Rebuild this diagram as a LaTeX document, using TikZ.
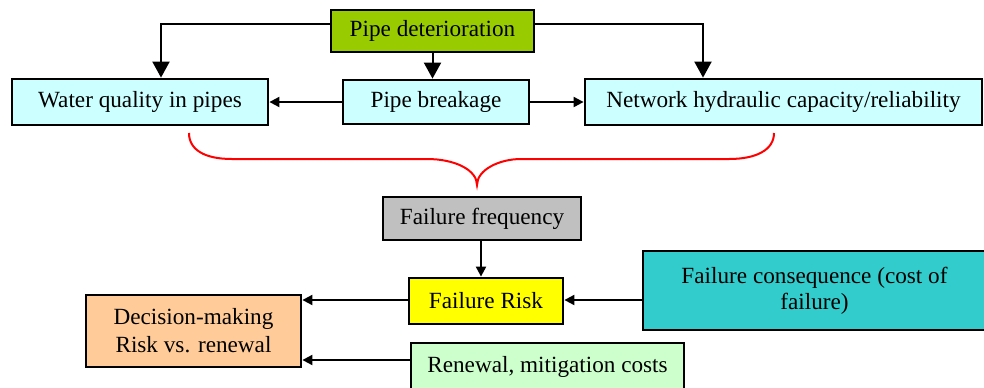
\documentclass[tikz,border=0pt]{standalone}
\usepackage{fontspec}
\setmainfont{Liberation Serif}
\usetikzlibrary{arrows.meta}
\definecolor{detgreen}{HTML}{99CC00}
\definecolor{paleblue}{HTML}{CCFFFF}
\definecolor{freqgray}{HTML}{C0C0C0}
\definecolor{riskyellow}{HTML}{FFFF00}
\definecolor{consteal}{HTML}{33CCCC}
\definecolor{decpeach}{HTML}{FFCC99}
\definecolor{renlight}{HTML}{CCFFCC}
\tikzset{
  box/.style={draw=black, line width=1.4pt, rectangle, inner sep=0pt,
    align=center, font=\fontsize{11.6}{13.5}\selectfont},
  bigarrow/.style={line width=1pt, -{Triangle[width=8.5pt,length=8pt]}},
  smallarrow/.style={line width=1pt, -{Triangle[width=5pt,length=5pt]}},
  brace/.style={draw=red, line width=1pt}
}
\begin{document}
\begin{tikzpicture}[x=0.5pt,y=-0.5pt]
\useasboundingbox (0,0) rectangle (984,387);
% upper level: deterioration and its effects
\node[box, fill=detgreen, minimum width=101.5pt, minimum height=21pt] (det) at (432.5,31) {Pipe deterioration};
\node[box, fill=paleblue, minimum width=128pt, minimum height=23pt] (water) at (140,102) {Water quality in pipes};
\node[box, fill=paleblue, minimum width=93pt, minimum height=22pt] (brk) at (436,102) {Pipe breakage};
\node[box, fill=paleblue, minimum width=198.5pt, minimum height=23pt] (net) at (783.5,102) {Network hydraulic capacity/reliability};
% lower level: risk assessment
\node[box, fill=freqgray, minimum width=99pt, minimum height=21.5pt] (freq) at (482,218.5) {Failure frequency};
\node[box, fill=riskyellow, minimum width=77pt, minimum height=23pt] (risk) at (486,301) {Failure Risk};
\node[box, fill=consteal, minimum width=171.5pt, minimum height=39.5pt, font=\fontsize{11.6}{13}\selectfont] (cons) at (814.5,290.5) {Failure consequence (cost of\\failure)};
\node[box, fill=decpeach, minimum width=107.5pt, minimum height=36pt, font=\fontsize{11.6}{14}\selectfont] (dec) at (193.5,331) {Decision-making\\Risk vs. renewal};
\node[box, fill=renlight, minimum width=136.5pt, minimum height=24pt] (ren) at (547.5,367) {Renewal, mitigation costs};
% connectors from deterioration
\draw[bigarrow] ([yshift=3.5pt]det.west) -| ([xshift=10.5pt]water.north);
\draw[bigarrow] ([yshift=3.5pt]det.east) -| ([xshift=-40.25pt]net.north);
\draw[bigarrow] (det.south) -- (det.south |- brk.north);
\draw[smallarrow] (brk.west) -- (water.east);
\draw[smallarrow] (brk.east) -- (net.west);
% brace gathering the three effects
\coordinate (bl) at (189,133);
\coordinate (bc) at (477,185);
\coordinate (br) at (774,133);
\draw[brace] (bl) .. controls (189,150) and (205,159) .. (232,159) -- (427,159)
  .. controls (455,159) and (477,170) .. (bc)
  .. controls (477,170) and (499,159) .. (521,159) -- (729,159)
  .. controls (756,159) and (774,150) .. (br);
% risk connectors
\draw[smallarrow] ([xshift=-0.5pt]freq.south) -- ([xshift=-0.5pt]freq.south |- risk.north);
\draw[smallarrow] ([yshift=0.5pt]risk.west) -- ([yshift=0.5pt]risk.west -| dec.east);
\draw[smallarrow] ([yshift=0.5pt]cons.west |- risk.east) -- ([yshift=0.5pt]risk.east);
\draw[smallarrow] ([yshift=3.5pt]ren.west) -- ([yshift=3.5pt]ren.west -| dec.east);
\end{tikzpicture}
\end{document}
